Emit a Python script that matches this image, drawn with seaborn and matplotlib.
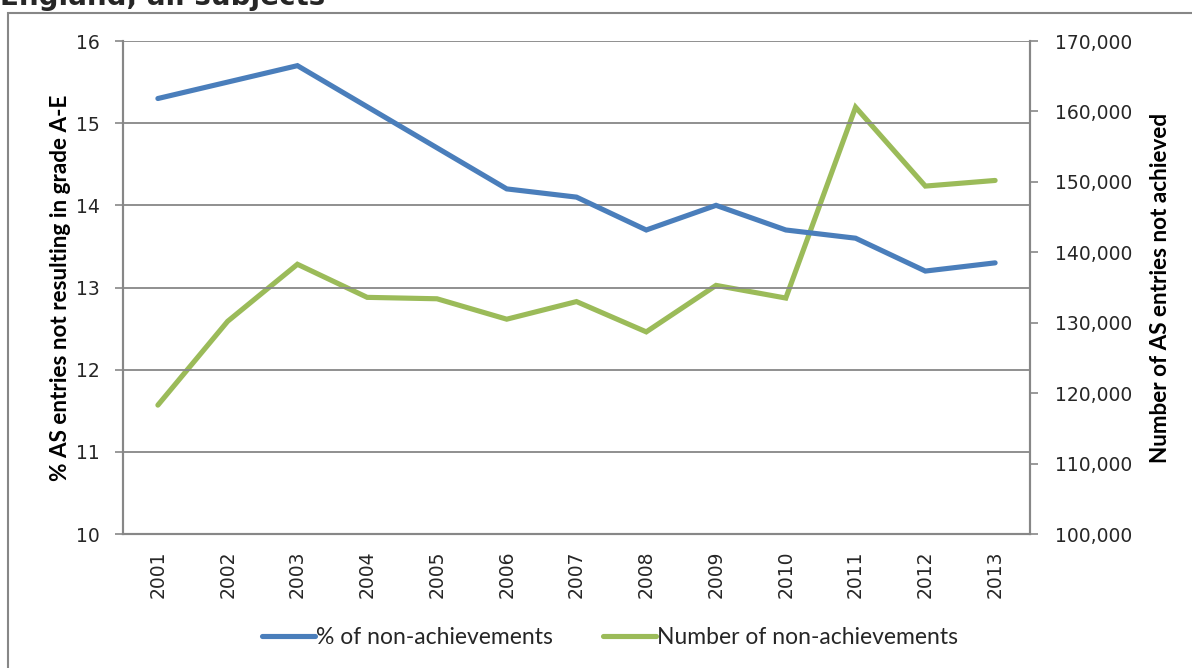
import numpy as np
import pandas as pd
import matplotlib
matplotlib.use("Agg")
import matplotlib.pyplot as plt
import seaborn as sns
from matplotlib.patches import Rectangle
from matplotlib.ticker import FuncFormatter, MultipleLocator, FixedLocator

years = ["2001", "2002", "2003", "2004", "2005", "2006", "2007",
         "2008", "2009", "2010", "2011", "2012", "2013"]
pct_non_achieved = [15.3, 15.5, 15.7, 15.2, 14.7, 14.2, 14.1,
                    13.7, 14.0, 13.7, 13.6, 13.2, 13.3]
num_non_achieved = [118300, 130200, 138300, 133600, 133400, 130500, 133000,
                    128700, 135300, 133500, 160600, 149400, 150200]

BLUE = "#4A7EBB"
GREEN = "#9BBB59"
GREY = "#878787"

df = pd.DataFrame({"year": years, "pos": np.arange(len(years)),
                   "pct": pct_non_achieved, "num": num_non_achieved})

sns.set_style("white")
plt.rcParams["font.family"] = ["DejaVu Sans"]

fig = plt.figure(figsize=(11.92, 6.68), dpi=100)
ax = fig.add_axes([123 / 1192, 1 - 534 / 668, (1030 - 123) / 1192, (534 - 41) / 668])
ax2 = ax.twinx()

sns.lineplot(data=df, x="pos", y="pct", ax=ax, color=BLUE, linewidth=3.7,
             label="% of non-achievements", legend=False)
sns.lineplot(data=df, x="pos", y="num", ax=ax2, color=GREEN, linewidth=3.7,
             label="Number of non-achievements", legend=False)
for a in (ax, ax2):
    for ln in a.get_lines():
        ln.set_solid_capstyle("round")
        ln.set_solid_joinstyle("miter")

ax.set_xlim(-0.5, len(years) - 0.5)
ax.set_ylim(10, 16)
ax2.set_ylim(100000, 170000)
ax.yaxis.set_major_locator(MultipleLocator(1))
ax2.yaxis.set_major_locator(MultipleLocator(10000))
ax2.yaxis.set_major_formatter(FuncFormatter(lambda v, p: f"{int(v):,}"))

ax.grid(axis="y", color=GREY, linewidth=1.3)
ax.grid(axis="x", visible=False)
ax2.grid(False)
ax.set_axisbelow(True)
ax.set_zorder(ax2.get_zorder() + 1)
ax.patch.set_visible(False)

ax.xaxis.set_major_locator(FixedLocator(df["pos"]))
ax.set_xticklabels(years, rotation=90, fontsize=13.5)
ax.xaxis.set_minor_locator(FixedLocator(np.arange(-0.5, len(years), 1.0)))
ax.tick_params(axis="x", which="major", length=0, pad=12)
ax.tick_params(axis="x", which="minor", length=7, width=1.2, color=GREY, direction="out")
ax.tick_params(axis="y", length=6, width=1.2, color=GREY, direction="out", labelsize=13.5, pad=11)
ax2.tick_params(axis="y", length=6, width=1.2, color=GREY, direction="out", labelsize=13.5, pad=12)

for a in (ax, ax2):
    for side, sp in a.spines.items():
        sp.set_color(GREY)
        sp.set_linewidth(1.5)
    a.spines["top"].set_visible(False)

ax.set_xlabel("")
label_font = ["Lato", "DejaVu Sans"]
ax.set_ylabel("% AS entries not resulting in grade A-E", fontsize=16.2,
              fontweight="bold", family=label_font, labelpad=3, color="black")
ax2.set_ylabel("Number of AS entries not achieved", fontsize=16.2,
               fontweight="bold", family=label_font, labelpad=13, color="black")

handles = ax.get_lines()[:1] + ax2.get_lines()[:1]
fig.legend(handles, [h.get_label() for h in handles], loc="center",
           bbox_to_anchor=(610 / 1192, 1 - 638 / 668), ncol=2, frameon=False,
           handlelength=2.3, handletextpad=0.05, columnspacing=2.2,
           prop={"family": label_font, "size": 16.5})

fig.patches.append(Rectangle((8 / 1192, -0.1), 1.2, 1 - 13 / 668 + 0.1,
                             transform=fig.transFigure, fill=False,
                             edgecolor=GREY, linewidth=1.5))
fig.text(0.0, 1 - 5 / 668, "England, all subjects", fontsize=20,
         fontweight="bold", va="baseline", ha="left")

fig.savefig("out.png", dpi=100)
